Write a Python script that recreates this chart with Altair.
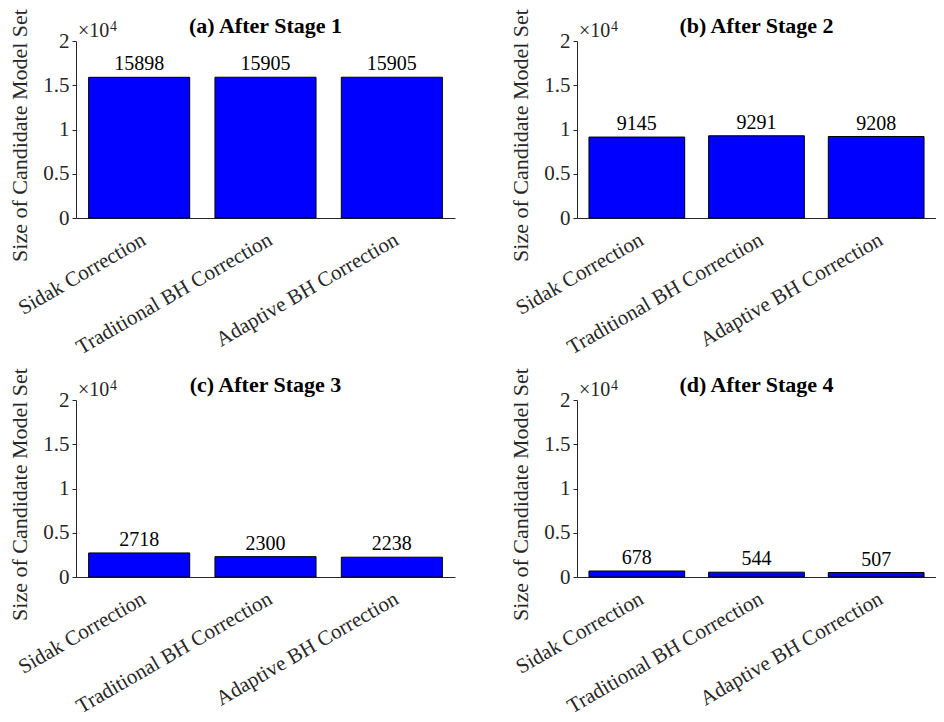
import altair as alt
import pandas as pd

methods = ["Sidak Correction", "Traditional BH Correction", "Adaptive BH Correction"]
titles = ["(a) After Stage 1", "(b) After Stage 2", "(c) After Stage 3", "(d) After Stage 4"]
stage1 = [15898, 15905, 15905]
stage2 = [9145, 9291, 9208]
stage3 = [2718, 2300, 2238]
stage4 = [678, 544, 507]
y_ticks = [0, 5000, 10000, 15000, 20000]
y_max = 20000

FONT = "Liberation Serif"
AX = "#262626"


def panel(title, vals, w):
    df = pd.DataFrame({"method": methods, "value": vals})
    x = alt.X(
        "method:N",
        sort=methods,
        scale=alt.Scale(paddingInner=0.2, paddingOuter=0.1),
        axis=alt.Axis(
            title=None, labelAngle=330, labelAlign="right", labelBaseline="middle",
            labelFont=FONT, labelFontSize=21, labelColor=AX, ticks=False,
            domainColor=AX, labelPadding=20, labelOffset=5, labelLimit=400,
        ),
    )
    y = alt.Y(
        "value:Q",
        scale=alt.Scale(domain=[0, y_max]),
        axis=alt.Axis(
            values=y_ticks, labelExpr="datum.value / 10000", grid=False,
            title="Size of Candidate Model Set", titleFont=FONT, titleFontSize=22,
            titleFontWeight="normal", titleColor=AX, titlePadding=11, titleY=94,
            labelFont=FONT, labelFontSize=21, labelColor=AX, labelPadding=3,
            tickSize=4, tickColor=AX, domainColor=AX,
        ),
    )
    base = alt.Chart(df)
    bars = base.mark_bar(color="#0000FF", stroke="black", strokeWidth=1).encode(x=x, y=y)
    labels = base.mark_text(baseline="bottom", dy=-3, font=FONT, fontSize=20, color="black").encode(
        x=x, y=y, text="value:Q"
    )
    ann = pd.DataFrame({"value": [y_max], "t": ["×10"], "s": ["4"]})
    exp1 = alt.Chart(ann).mark_text(align="left", baseline="alphabetic", dx=2, dy=-4,
                                     font=FONT, fontSize=20, color=AX).encode(
        x=alt.value(0), y=y, text="t:N")
    exp2 = alt.Chart(ann).mark_text(align="left", baseline="alphabetic", dx=34, dy=-10,
                                     font=FONT, fontSize=14, color=AX).encode(
        x=alt.value(0), y=y, text="s:N")
    return alt.layer(bars, labels, exp1, exp2).properties(
        width=w, height=177,
        title=alt.TitleParams(title, font=FONT, fontSize=22, fontWeight="bold",
                              color="black", anchor="middle", frame="group", offset=-29),
    )


chart = alt.concat(
    panel(titles[0], stage1, 379),
    panel(titles[1], stage2, 359),
    panel(titles[2], stage3, 379),
    panel(titles[3], stage4, 359),
    columns=2,
    spacing={"row": 182, "column": 122},
    bounds="flush",
).configure_view(stroke=None).properties(
    padding={"left": 0, "top": 0, "right": 0, "bottom": 0}
)

chart.save("out.html", embed_options={"renderer": "svg", "actions": False})
